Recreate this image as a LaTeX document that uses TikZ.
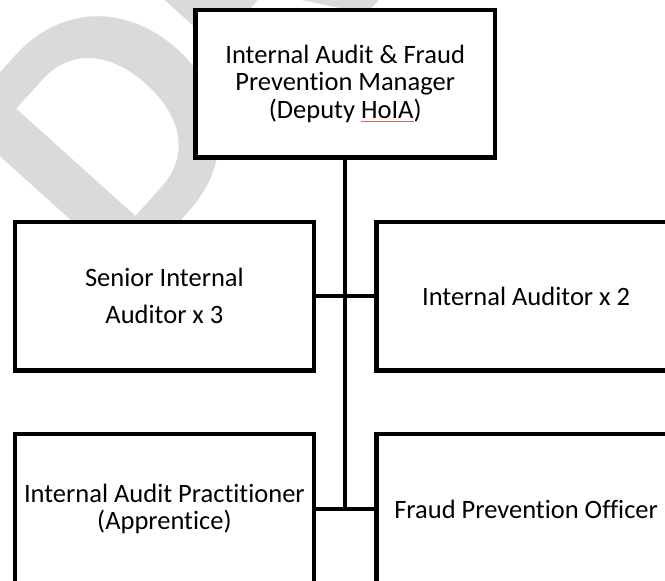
\documentclass[tikz,border=0pt]{standalone}
\usepackage{fontspec}
\setmainfont{Carlito}[Ligatures={NoCommon,NoRare}]
\definecolor{squiggle}{RGB}{225,95,95}
\definecolor{watermark}{RGB}{218,218,218}
% thin red spell-check mark under a word
\newcommand\spellmark[1]{\setbox0\hbox{#1}\rlap{\color{squiggle}\rule[-4pt]{\wd0}{0.9pt}}\box0}

\begin{document}
\begin{tikzpicture}[x=1pt,y=-1pt,
  role/.style={draw=black, line width=4.5pt, fill=white, inner sep=0pt,
    align=center, minimum width=298.8pt, minimum height=148.5pt,
    font=\fontsize{26.5}{27.5}\selectfont},
  link/.style={draw=black, line width=4.5pt}]
\useasboundingbox (0,0) rectangle (665,581);
\clip (0,0) rectangle (665,581);

% background watermark
\node[text=watermark, rotate=48, anchor=base west, inner sep=0pt,
      font=\bfseries\fontsize{360}{360}\selectfont] (wm) at (118,291) {DRAFT};

% boxes
\node[role, minimum width=299.7pt, minimum height=147.5pt] (mgr) at (345.2,83.8)
  {Internal Audit \& Fraud\\Prevention Manager\\(Deputy \spellmark{HoIA})};
\node[role, font=\fontsize{26.5}{37}\selectfont] (sia) at (164.4,296)
  {Senior Internal\\Auditor x 3};
\node[role] (ia) at (526.1,296) {Internal Auditor x 2};
\node[role, minimum height=150pt] (iap) at (164.4,509)
  {Internal Audit Practitioner\\(Apprentice)};
\node[role, minimum height=150pt] (fpo) at (526.1,509) {Fraud Prevention Officer};

% connectors
\coordinate (trunkend) at (mgr.south |- iap.east);
\draw[link] (mgr.south) -- (trunkend);
\draw[link] (sia.east) -- (ia.west);
\draw[link] (iap.east) -- (fpo.west);
\end{tikzpicture}
\end{document}
